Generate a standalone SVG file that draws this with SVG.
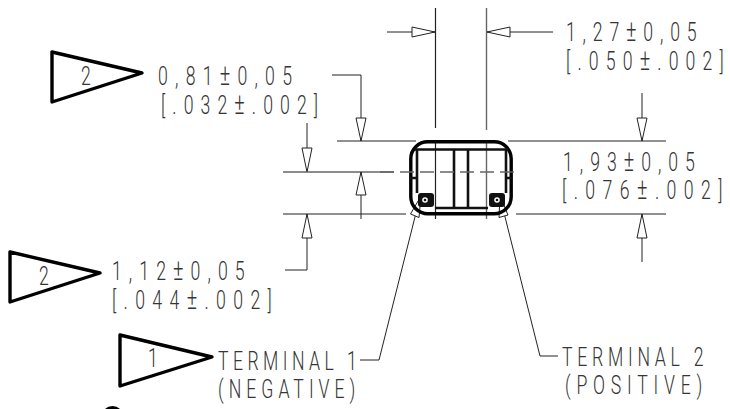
<svg xmlns="http://www.w3.org/2000/svg" width="730" height="409" viewBox="0 0 730 409">
<defs>
<style>
.bg{fill:#fff}
.thin{fill:none;stroke:#222;stroke-width:1}
.ext{fill:none;stroke:#222;stroke-width:1.2}
.gray{fill:none;stroke:#666;stroke-width:1.4}
.head{fill:#fff;stroke:#222;stroke-width:1}
.flag{fill:#fff;stroke:#000;stroke-width:3.4;stroke-linejoin:round}
.thick{fill:none;stroke:#000;stroke-width:3.4}
.mid{fill:none;stroke:#111;stroke-width:2.6}
.dash{fill:none;stroke:#666;stroke-width:1.3;stroke-dasharray:14 6}
text{font-family:Roboto,"Liberation Sans",Arial,sans-serif;font-size:26px;fill:#333;font-weight:300;opacity:.99}
.pm{font-size:29px}
</style>
</defs>
<rect class="bg" width="730" height="409"/>
<g id="connectors">
<path class="ext" d="M435.500 8V128M435.500 141V219"/>
<path class="gray" d="M486.500 8V130M486.500 141V219"/>
<path class="thin" d="M387 32H435M487 32H553"/>
<path class="head" d="M412 27V37L435 32Z"/>
<path class="head" d="M510 27V37L487 32Z"/>
<path class="thin" d="M332 75H361V141"/>
<path class="head" d="M356 118H366L361 141Z"/>
<path class="ext" d="M337 141H416M508 141H666"/>
<path class="thin" d="M307 123V172"/>
<path class="head" d="M302 148H312L307 172Z"/>
<path class="gray" d="M283 172H394"/>
<path class="thin" d="M361 172V219"/>
<path class="head" d="M356 195H366L361 172Z"/>
<path class="ext" d="M283 214H406M516 214H666"/>
<path class="thin" d="M285 270H307V214"/>
<path class="head" d="M302 238H312L307 214Z"/>
<path class="thin" d="M642 93V141"/>
<path class="head" d="M637 118H647L642 141Z"/>
<path class="thin" d="M642 214V262"/>
<path class="head" d="M637 238H647L642 214Z"/>
<path class="thin" d="M420 197 379 360H360"/>
<path class="thin" d="M500 197 540 356H558"/>
<path class="head" d="M421 196 410.500 214 419 217.500Z"/>
<path class="head" d="M500 196 499 217.500 508 215Z"/>
</g>
<g id="package">
<rect class="thick" x="410.800" y="141.800" width="100.400" height="72" rx="17"/>
<path class="mid" d="M417 193V149.500H506V193M415 149.500H508"/>
<path class="mid" d="M454 149.500V208M468 149.500V208"/>
<path class="mid" d="M435 208H488"/>
<path class="mid" d="M410 178H417M506 178H512"/>
<rect x="418" y="193" width="16" height="14" rx="3" fill="#111"/>
<rect x="489" y="193" width="16" height="14" rx="3" fill="#111"/>
<circle cx="425" cy="200" r="2.800" fill="#fff"/>
<circle cx="497" cy="200" r="2.800" fill="#fff"/>
<circle cx="425" cy="200" r="1.300" fill="#111"/>
<circle cx="497" cy="200" r="1.300" fill="#111"/>
<path class="dash" d="M380 172H516"/>
</g>
<g id="flag-top"><path class="flag" d="M52 52V102L142 73Z"/><text transform="translate(81,85) scale(.68,1)">2</text></g>
<g id="flag-mid"><path class="flag" d="M10 252V302L100 273Z"/><text transform="translate(39,285) scale(.68,1)">2</text></g>
<g id="flag-bottom"><path class="flag" d="M120 335V386L212 357Z"/><text transform="translate(148,367) scale(.68,1)">1</text></g>
<g id="dim-081">
<text transform="translate(158,85) scale(.68,1)" textLength="197">0,81<tspan class="pm">±</tspan>0,05</text>
<text transform="translate(161,114) scale(.68,1)" textLength="231">[.032<tspan class="pm">±</tspan>.002]</text>
</g>
<g id="dim-112">
<text transform="translate(112,280) scale(.68,1)" textLength="195">1,12<tspan class="pm">±</tspan>0,05</text>
<text transform="translate(112,309) scale(.68,1)" textLength="235">[.044<tspan class="pm">±</tspan>.002]</text>
</g>
<g id="dim-127">
<text transform="translate(566,41) scale(.68,1)" textLength="192">1,27<tspan class="pm">±</tspan>0,05</text>
<text transform="translate(566,70) scale(.68,1)" textLength="232">[.050<tspan class="pm">±</tspan>.002]</text>
</g>
<g id="dim-193">
<text transform="translate(563,171) scale(.68,1)" textLength="194">1,93<tspan class="pm">±</tspan>0,05</text>
<text transform="translate(562,199) scale(.68,1)" textLength="236">[.076<tspan class="pm">±</tspan>.002]</text>
</g>
<g id="term-1">
<text transform="translate(218,370) scale(.68,1)" textLength="204">TERMINAL 1</text>
<text transform="translate(218,398) scale(.68,1)" textLength="202">(NEGATIVE)</text>
</g>
<g id="term-2">
<text transform="translate(562,366) scale(.68,1)" textLength="208">TERMINAL 2</text>
<text transform="translate(565,394) scale(.68,1)" textLength="202">(POSITIVE)</text>
</g>
<circle cx="112.500" cy="417" r="11" fill="#000"/>
</svg>
